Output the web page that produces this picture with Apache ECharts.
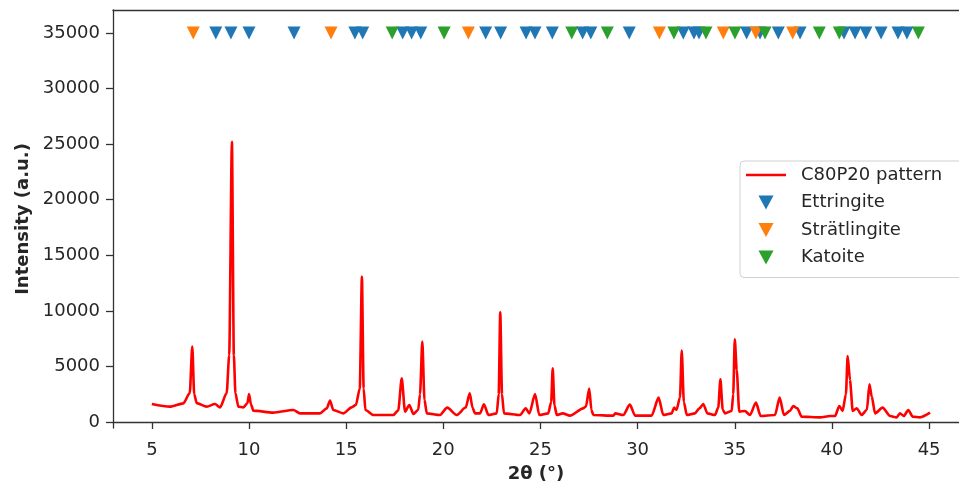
<!DOCTYPE html>
<html lang="en">

<head>
    <meta charset="UTF-8">
    <title>C80P20 XRD pattern</title>
    <script src="https://cdn.jsdelivr.net/npm/echarts@6/dist/echarts.min.js"></script>
    <style>
        * {
            margin: 0;
            padding: 0
        }

        html,
        body {
            width: 959px;
            height: 488px;
            background: #fff;
        }
    </style>
</head>

<body>
    <div id="main" style="width:959px;height:488px"></div>

    <script>
        // measured pattern, 2theta (deg) / intensity (a.u.)
        var patternTheta = [5.00, 5.93, 6.62, 6.95, 7.08, 7.18, 7.31, 7.82, 8.25, 8.51, 8.85, 8.98, 9.12, 9.22, 9.30, 9.45,
            9.71, 9.92, 10.00, 10.10, 10.22, 11.25, 12.28, 12.62, 13.65, 14.00, 14.17, 14.34, 14.85, 15.28, 15.50, 15.70,
            15.81, 15.90, 15.99, 16.40, 17.43, 17.68, 17.86, 18.03, 18.25, 18.46, 18.71, 18.80, 18.92, 19.03, 19.15, 19.83,
            20.20, 20.69, 21.15, 21.36, 21.50, 21.63, 21.89, 22.09, 22.32, 22.75, 22.85, 22.93, 23.02, 23.12, 23.95, 24.24,
            24.43, 24.72, 24.94, 25.40, 25.55, 25.63, 25.72, 25.84, 26.14, 26.52, 27.20, 27.34, 27.51, 27.62, 27.72, 28.75,
            28.85, 29.26, 29.60, 29.87, 30.72, 31.08, 31.32, 31.75, 31.88, 32.00, 32.18, 32.27, 32.38, 32.53, 32.95, 33.18,
            33.38, 33.59, 33.98, 34.15, 34.26, 34.38, 34.50, 34.84, 34.92, 35.00, 35.10, 35.23, 35.52, 35.78, 36.09, 36.33,
            37.07, 37.31, 37.53, 37.84, 38.01, 38.22, 38.44, 39.39, 39.90, 40.16, 40.38, 40.55, 40.72, 40.81, 40.93, 41.07,
            41.27, 41.53, 41.80, 41.93, 42.05, 42.22, 42.61, 42.99, 43.33, 43.50, 43.70, 43.93, 44.16, 44.53, 45.05];
        var patternIntensity = [1620, 1380, 1680, 2600, 6780, 2500, 1700, 1380, 1620, 1320, 2600, 6000, 25200, 6000, 2600, 1380,
            1320, 1700, 2520, 1600, 1020, 840, 1080, 780, 780, 1230, 1920, 1080, 780, 1320, 1530, 3000,
            13080, 3000, 1080, 630, 630, 1050, 3930, 930, 1530, 720, 1100, 2500, 7230, 2000, 780, 630,
            1290, 630, 1300, 2580, 1300, 780, 780, 1590, 630, 780, 2500, 9870, 2500, 780, 630, 1230,
            780, 2520, 630, 780, 1800, 4830, 1500, 630, 780, 570, 1230, 1400, 3000, 1100, 630, 570,
            780, 630, 1560, 570, 570, 2190, 630, 780, 1290, 1100, 2200, 6420, 1800, 630, 780, 1230,
            1620, 780, 630, 1300, 3840, 1100, 780, 990, 2500, 7440, 4680, 930, 990, 630, 1740, 540,
            630, 2190, 630, 1000, 1440, 1230, 480, 420, 540, 540, 1440, 1000, 2500, 5940, 3780, 1000,
            1230, 630, 1100, 3390, 2280, 780, 1290, 540, 420, 780, 540, 1080, 480, 420, 840];

        // reference peak positions (2theta), drawn as markers on one row
        var ettringiteTheta = [8.29, 9.07, 10.00, 12.32, 15.45, 15.85, 17.91, 18.37, 18.84, 22.18, 22.95, 24.26, 24.72, 25.61,
            27.17, 27.59, 29.57, 32.35, 32.90, 33.16, 35.61, 36.30, 37.24, 38.36, 40.62, 41.19, 41.75, 42.53, 43.40, 43.86];
        var stratlingiteTheta = [7.13, 14.22, 21.29, 31.12, 34.41, 36.09, 37.98];
        var katoiteTheta = [17.37, 20.04, 26.61, 28.44, 31.87, 33.52, 35.01, 36.56, 39.35, 40.38, 44.45];
        var markerLevel = 35000;

        var xTicks = [5, 10, 15, 20, 25, 30, 35, 40, 45];
        var yTicks = [0, 5000, 10000, 15000, 20000, 25000, 30000, 35000];

        var FONT = "DejaVu Sans";
        var TRI = 'path://M0,0 L14,0 L7,13 Z';
        var INK = '#333';

        function pairs(xs, ys) {
            return xs.map(function (x, i) { return [x, ys[i]]; });
        }
        function row(xs) {
            return xs.map(function (x) { return [x, markerLevel]; });
        }
        function markers(name, xs, color) {
            return {
                name: name,
                type: 'scatter',
                data: row(xs),
                symbol: TRI,
                symbolSize: [13, 13],
                itemStyle: { color: color, opacity: 1 },
                silent: true
            };
        }

        echarts.init(document.getElementById('main'), null, { renderer: 'canvas' }).setOption({
            animation: false,
            textStyle: { fontFamily: FONT },
            grid: {
                left: 113,
                right: 0,
                top: 10,
                bottom: 60,
                show: false
            },
            legend: {
                orient: 'vertical',
                left: 740,
                top: 161,
                padding: [4, 30, 10, 6],
                itemWidth: 40,
                itemHeight: 14,
                itemGap: 7.5,
                borderColor: '#d0d0d0',
                borderWidth: 1,
                borderRadius: 4,
                backgroundColor: 'rgba(255,255,255,0.8)',
                textStyle: { fontFamily: FONT, fontSize: 18, color: '#262626', lineHeight: 20, padding: [0, 0, 0, 10] },
                data: [
                    { name: 'C80P20 pattern', icon: 'path://M0,0 H40 V2.6 H0 Z' },
                    { name: 'Ettringite', icon: TRI },
                    { name: 'Strätlingite', icon: TRI },
                    { name: 'Katoite', icon: TRI }
                ]
            },
            xAxis: [{
                type: 'value',
                min: 3,
                max: 46.54,
                name: '2θ (°)',
                nameLocation: 'middle',
                nameGap: 37,
                nameTextStyle: { fontFamily: FONT, fontSize: 18, fontWeight: 'bold', color: '#262626' },
                splitLine: { show: false },
                axisLine: { lineStyle: { color: INK, width: 1.3 } },
                axisTick: { customValues: xTicks, length: 7, lineStyle: { color: INK, width: 1.3 } },
                axisLabel: { customValues: xTicks, margin: 13, fontSize: 18, color: '#262626', fontFamily: FONT }
            }, {
                // top spine only
                type: 'value',
                position: 'top',
                min: 3,
                max: 46.54,
                splitLine: { show: false },
                axisLine: { show: true, onZero: false, lineStyle: { color: INK, width: 1.3 } },
                axisTick: { show: false },
                axisLabel: { show: false }
            }],
            yAxis: {
                type: 'value',
                min: -540,
                max: 37070,
                name: 'Intensity (a.u.)',
                nameLocation: 'middle',
                nameGap: 74,
                nameTextStyle: { fontFamily: FONT, fontSize: 18, fontWeight: 'bold', color: '#262626' },
                splitLine: { show: false },
                axisLine: { show: true, onZero: false, lineStyle: { color: INK, width: 1.3 } },
                axisTick: { show: true, customValues: yTicks, length: 7, lineStyle: { color: INK, width: 1.3 } },
                axisLabel: {
                    customValues: yTicks, margin: 13, fontSize: 18, color: '#262626', fontFamily: FONT,
                    formatter: function (v) { return String(v); }
                }
            },
            series: [
                {
                    name: 'C80P20 pattern',
                    type: 'line',
                    data: pairs(patternTheta, patternIntensity),
                    showSymbol: false,
                    symbol: 'none',
                    smooth: 0.25,
                    smoothMonotone: 'x',
                    color: '#ff0000',
                    lineStyle: { color: '#ff0000', width: 2.6 },
                    silent: true
                },
                markers('Ettringite', ettringiteTheta, '#1f77b4'),
                markers('Strätlingite', stratlingiteTheta, '#ff7f0e'),
                markers('Katoite', katoiteTheta, '#2ca02c')
            ]
        });
    </script>
</body>

</html>
